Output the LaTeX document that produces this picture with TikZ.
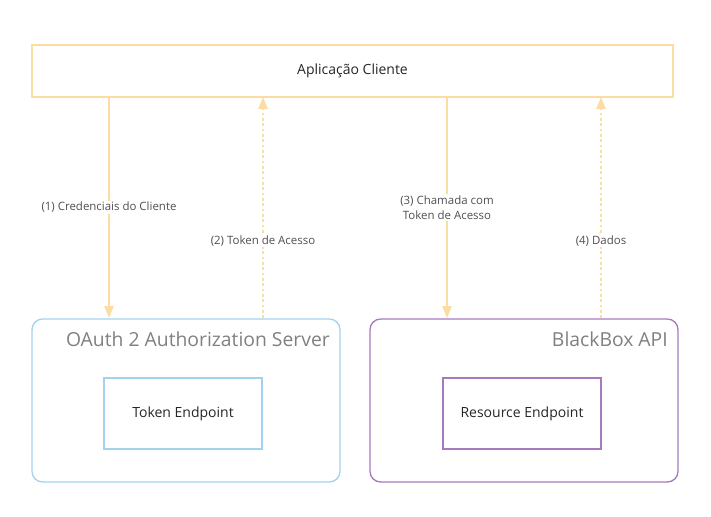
\documentclass[tikz,border=0pt]{standalone}
\usepackage{fontspec}
\setmainfont{Open Sans}
\usetikzlibrary{arrows.meta}

\definecolor{appline}{HTML}{FBDDA3}
\definecolor{authline}{HTML}{A3D3EC}
\definecolor{apiline}{HTML}{A67BBD}
\definecolor{titlegray}{HTML}{808080}
\definecolor{labelgray}{HTML}{505050}

\tikzset{
  msg/.style={draw=appline, line width=1.2pt, -{Triangle[width=7pt,length=9pt]}},
  reply/.style={msg, dashed, dash pattern=on 2pt off 2pt},
  msglabel/.style={fill=white, text=labelgray, font=\fontsize{8.6}{11}\selectfont, align=center, inner sep=1pt},
  container/.style={draw, line width=1pt, rounded corners=8pt},
  endpoint/.style={draw, line width=1pt, font=\fontsize{10.5}{12}\selectfont, text=black!85},
  boxtitle/.style={anchor=east, text=titlegray, font=\fontsize{14.5}{16}\selectfont, inner sep=0pt}
}

\begin{document}
\begin{tikzpicture}[x=0.75pt,y=-0.75pt]
\useasboundingbox (0,0) rectangle (711,517);

\node[draw=appline, line width=1pt, minimum width=641*0.75pt, minimum height=52*0.75pt,
  font=\fontsize{10.5}{12}\selectfont, text=black!85] (app) at (352.5,71) {Aplicação Cliente};

\node[container, draw=authline, minimum width=308*0.75pt, minimum height=163*0.75pt] (auth) at (186,400.5) {};
\node[boxtitle] (authtitle) at (330,339) {OAuth 2 Authorization Server};
\node[endpoint, draw=authline, minimum width=158*0.75pt, minimum height=71*0.75pt] (token) at (183,413.5) {Token Endpoint};

\node[container, draw=apiline, minimum width=308*0.75pt, minimum height=163*0.75pt] (api) at (524,400.5) {};
\node[boxtitle] (apititle) at (668,339) {BlackBox API};
\node[endpoint, draw=apiline, minimum width=158*0.75pt, minimum height=71*0.75pt] (resource) at (522,413.5) {Resource Endpoint};

\coordinate (a1) at (109,97);  \coordinate (b1) at (109,318);
\coordinate (a2) at (263,97);  \coordinate (b2) at (263,318);
\coordinate (a3) at (447,97);  \coordinate (b3) at (447,318);
\coordinate (a4) at (601,97);  \coordinate (b4) at (601,318);

\draw[msg] (a1) -- node[msglabel, pos=0.5] {(1) Credenciais do Cliente} (b1);
\draw[reply] (b2) -- node[msglabel, pos=0.35] {(2) Token de Acesso} (a2);
\draw[msg] (a3) -- node[msglabel, pos=0.5] {(3) Chamada com\\Token de Acesso} (b3);
\draw[reply] (b4) -- node[msglabel, pos=0.35] {(4) Dados} (a4);
\end{tikzpicture}
\end{document}
